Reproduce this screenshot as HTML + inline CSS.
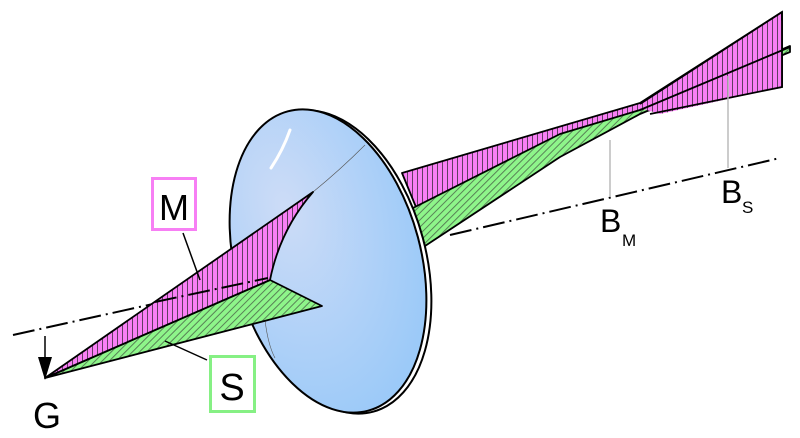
<!DOCTYPE html>
<html><head><style>html,body{margin:0;padding:0;background:#fff}svg{display:block}</style></head>
<body>
<svg width="800" height="438" viewBox="0 0 800 438" xmlns="http://www.w3.org/2000/svg" font-family="Liberation Sans, sans-serif">
<defs>
<pattern id="mh" width="5" height="5" patternUnits="userSpaceOnUse">
<rect width="5" height="5" fill="#f97ff5"/><line x1="2.5" y1="0" x2="2.5" y2="5" stroke="#222" stroke-width="0.7"/></pattern>
<pattern id="gh" width="5" height="5" patternUnits="userSpaceOnUse" patternTransform="rotate(45)">
<rect width="5" height="5" fill="#8ef58a"/><line x1="2.5" y1="0" x2="2.5" y2="5" stroke="#333" stroke-width="0.6"/></pattern>
<radialGradient id="lg" cx="0.35" cy="0.3" r="0.8">
<stop offset="0" stop-color="#cddcf7"/><stop offset="1" stop-color="#97c8f8"/></radialGradient>
</defs>
<!-- axis left -->
<line x1="13" y1="335" x2="270" y2="278" stroke="#000" stroke-width="2" stroke-dasharray="22,5,2,5"/>
<!-- right fans -->
<polygon points="402,173 640,103 782,12 782,87 640,112 418,212" fill="url(#mh)" stroke="#000" stroke-width="1.8" stroke-linejoin="round"/>
<polygon points="405,212 560,134 640,110 790,46 790,52 640,114 560,157 425,246" fill="url(#gh)" stroke="#000" stroke-width="1.8" stroke-linejoin="round"/>
<polygon points="640,108 782,20 782,87 660,114" fill="url(#mh)" stroke="none"/>
<polyline points="640,104 782,12 782,87 650,114" fill="none" stroke="#000" stroke-width="1.8"/>
<line x1="640" y1="110" x2="790" y2="47" stroke="#000" stroke-width="1.8"/>
<!-- axis right -->
<line x1="450" y1="235" x2="780" y2="158" stroke="#000" stroke-width="2" stroke-dasharray="22,5,2,5"/>
<line x1="610" y1="140" x2="610" y2="196" stroke="#bbb" stroke-width="1.5"/>
<line x1="728" y1="76" x2="728" y2="168" stroke="#bbb" stroke-width="1.5"/>
<!-- lens -->
<ellipse cx="333" cy="262" rx="93" ry="155" transform="rotate(-15 333 262)" fill="#fff" stroke="#000" stroke-width="2"/>
<ellipse cx="328" cy="261" rx="93" ry="155" transform="rotate(-15 328 261)" fill="url(#lg)" stroke="#000" stroke-width="2"/>
<path d="M290,130 Q283,150 271,168" stroke="#fff" stroke-width="3" fill="none" stroke-linecap="round"/>
<path d="M365,145 Q340,170 313,192" stroke="#555" stroke-width="0.6" fill="none"/>
<path d="M265,320 Q268,345 275,358" stroke="#555" stroke-width="0.6" fill="none"/>
<!-- left fans -->
<polygon points="45,378 270,280 322,306" fill="url(#gh)" stroke="#000" stroke-width="1.8" stroke-linejoin="round"/>
<path d="M45,378 L313,192 Q280,230 270,280 Z" fill="url(#mh)" stroke="#000" stroke-width="1.8" stroke-linejoin="round"/>
<line x1="155" y1="302" x2="268" y2="278" stroke="#000" stroke-width="2" stroke-dasharray="22,5,2,5"/>
<!-- arrow -->
<line x1="45" y1="336" x2="45" y2="360" stroke="#000" stroke-width="1.5"/>
<polygon points="38,357 52,357 45,380" fill="#000"/>
<!-- labels -->
<rect x="152.5" y="178.5" width="43" height="51" fill="#fff" stroke="#f77ff4" stroke-width="3"/>
<text x="174" y="220" font-size="36" text-anchor="middle">M</text>
<line x1="183" y1="233" x2="200" y2="280" stroke="#000" stroke-width="1.5"/>
<rect x="210.5" y="356.5" width="44" height="55" fill="#fff" stroke="#86f084" stroke-width="3"/>
<text x="232" y="400" font-size="38" text-anchor="middle">S</text>
<line x1="207" y1="360" x2="165" y2="341" stroke="#000" stroke-width="1.5"/>
<text x="47" y="428" font-size="36" text-anchor="middle">G</text>
<text x="600" y="232" font-size="32">B</text>
<text x="622" y="246" font-size="17">M</text>
<text x="721" y="203" font-size="32">B</text>
<text x="742" y="213" font-size="17">S</text>
</svg>
</body></html>
